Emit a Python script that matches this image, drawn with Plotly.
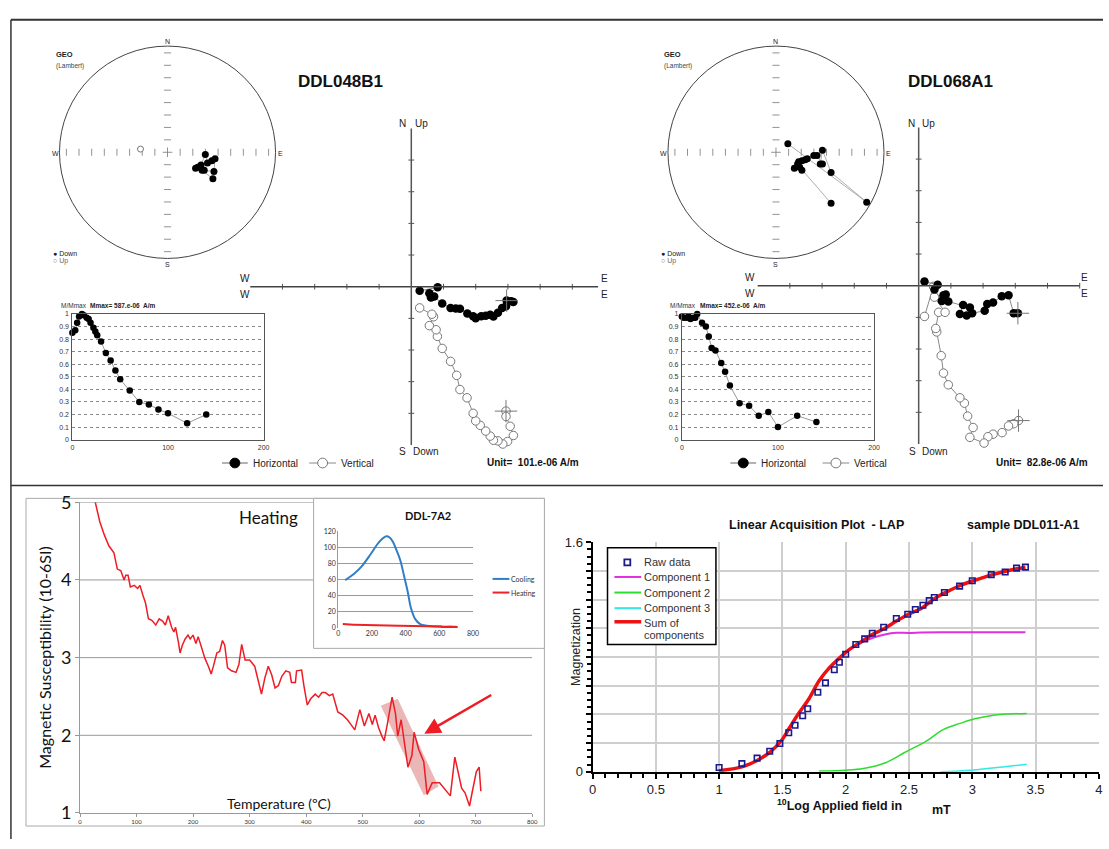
import plotly.graph_objects as go

W, H = 1109, 849
ARIAL = "Liberation Sans"
CALI = "Lato"

# ---------------- data ----------------
# Stereonets (Lambert equal-area, east/north in units of net radius)
st1_east = [0.42, 0.32, 0.43, 0.44, 0.41, 0.37, 0.35, 0.31, 0.28, 0.26, 0.34]
st1_north = [-0.25, -0.17, -0.18, -0.06, -0.08, -0.10, -0.02, -0.12, -0.14, -0.15, -0.17]
st1_up_east = [-0.25]
st1_up_north = [0.03]

st2_east = [0.11, 0.84, 0.51, 0.43, 0.41, 0.43, 0.38, 0.35, 0.29, 0.27, 0.24, 0.21, 0.20, 0.17, 0.24, 0.22, 0.51]
st2_north = [0.08, -0.47, -0.19, 0.02, -0.11, -0.11, -0.03, -0.03, -0.06, -0.07, -0.08, -0.09, -0.11, -0.15, -0.17, -0.14, -0.48]

# Zijderveld diagrams (units of the "Unit=" value)
zh1_x = [2.96, 3.10, 3.17, 2.94, 2.82, 2.69, 2.55, 2.45, 2.31, 2.17, 2.0, 1.92, 1.74, 1.51, 1.38, 1.22, 0.96, 0.71, 0.61, 0.56, 0.82, 0.26]
zh1_y = [-0.44, -0.46, -0.48, -0.62, -0.67, -0.82, -0.94, -0.89, -0.92, -0.93, -1.0, -0.93, -0.85, -0.70, -0.69, -0.67, -0.53, -0.31, -0.34, -0.21, -0.02, -0.13]
zv1_x = [2.94, 2.94, 3.07, 3.17, 2.99, 2.84, 2.69, 2.55, 2.45, 2.31, 2.14, 2.0, 1.92, 1.73, 1.51, 1.41, 1.22, 0.96, 0.81, 0.77, 0.56, 0.69, 0.64, 0.26]
zv1_y = [-3.93, -4.10, -4.41, -4.70, -4.89, -4.97, -4.87, -4.85, -4.72, -4.56, -4.38, -4.24, -4.0, -3.51, -3.25, -2.80, -2.36, -1.95, -1.57, -1.36, -1.23, -0.95, -0.87, -0.67]

zh2_x = [3.08, 2.95, 2.79, 2.58, 2.31, 2.13, 2.05, 1.66, 1.49, 1.28, 1.38, 1.59, 0.92, 0.84, 0.77, 0.72, 0.49, 0.59, 0.18]
zh2_y = [-0.87, -0.87, -0.30, -0.33, -0.53, -0.58, -0.79, -0.87, -0.94, -0.89, -0.61, -0.69, -0.50, -0.28, -0.30, -0.48, -0.12, 0.03, 0.13]
zv2_x = [3.10, 2.95, 2.79, 2.59, 2.31, 2.15, 2.03, 1.59, 1.69, 1.52, 1.42, 1.28, 0.92, 0.77, 0.70, 0.56, 0.53, 0.62, 0.82, 0.49, 0.46, 0.18]
zv2_y = [-4.26, -4.36, -4.43, -4.64, -4.69, -4.77, -4.97, -4.79, -4.48, -4.12, -3.71, -3.54, -3.13, -2.76, -2.21, -1.46, -1.35, -0.84, -0.84, -0.36, -0.02, -0.97]

# Demagnetisation curves M/Mmax
mm1_T = [0, 3, 5, 7, 10, 12, 15, 17, 19, 22, 24, 26, 30, 35, 40, 45, 50, 60, 70, 80, 90, 100, 120, 140]
mm1_M = [0.85, 0.87, 0.93, 0.98, 1.0, 0.99, 0.97, 0.96, 0.93, 0.89, 0.86, 0.83, 0.78, 0.69, 0.63, 0.55, 0.48, 0.39, 0.30, 0.28, 0.24, 0.21, 0.13, 0.20]
mm2_T = [0, 2, 5, 7, 9, 12, 14, 16, 21, 25, 28, 31, 35, 41, 45, 50, 60, 70, 80, 90, 100, 120, 140]
mm2_M = [0.98, 0.97, 0.97, 0.98, 0.96, 0.97, 0.97, 1.0, 0.93, 0.90, 0.82, 0.73, 0.71, 0.61, 0.54, 0.43, 0.29, 0.27, 0.19, 0.22, 0.10, 0.19, 0.14]

# Susceptibility vs temperature (heating)
heat_T = [27, 35, 43, 51, 60, 66, 72, 78, 81, 85, 89, 96, 102, 106, 111, 116, 121, 127, 134, 140,
          146, 151, 156, 162, 166, 169, 174, 177, 181, 186, 191, 195, 200, 205, 209, 215, 221, 227, 232, 236,
          242, 247, 252, 256, 261, 268, 276, 281, 286, 292, 300, 309, 316, 321, 327, 333, 339, 345, 351, 357,
          364, 371, 374, 381, 383, 392, 396, 402, 408, 416, 422, 428, 434, 441, 447, 456, 465, 473, 479, 486,
          495, 503, 511, 517, 522, 528, 534, 538, 544, 552, 558, 562, 568, 574, 580, 587, 591, 599, 608, 614,
          623, 636, 648, 655, 663, 669, 675, 681, 689, 694, 701, 706, 709]
heat_k = [5.0, 4.75, 4.58, 4.44, 4.35, 4.14, 4.12, 4.0, 4.06, 4.06, 3.91, 3.93, 3.89, 3.93, 3.81, 3.70, 3.50, 3.48, 3.42, 3.50,
          3.47, 3.42, 3.54, 3.39, 3.33, 3.39, 3.20, 3.06, 3.16, 3.24, 3.29, 3.24, 3.29, 3.18, 3.27, 3.14, 2.99, 2.89, 2.79, 2.89,
          3.06, 3.08, 3.22, 3.16, 2.87, 2.83, 2.81, 2.91, 3.17, 2.97, 2.97, 2.89, 2.66, 2.53, 2.74, 2.89, 2.78, 2.61, 2.64, 2.76,
          2.83, 2.81, 2.68, 2.68, 2.83, 2.84, 2.64, 2.39, 2.47, 2.53, 2.49, 2.55, 2.55, 2.51, 2.53, 2.30, 2.26, 2.20, 2.14, 2.07,
          2.33, 2.12, 2.28, 2.14, 2.26, 2.10, 1.99, 1.93, 2.16, 2.49, 2.28, 1.99, 2.20, 1.91, 1.59, 1.74, 2.04, 1.82, 1.66, 1.24,
          1.39, 1.39, 1.28, 1.22, 1.72, 1.53, 1.32, 1.26, 1.09, 1.28, 1.53, 1.59, 1.28]
band_T = [532, 562, 634, 608]
band_k = [2.38, 2.47, 1.34, 1.23]
arrow_tail = (730, 2.53)
arrow_head = (609, 2.02)

# Inset DDL-7A2 cooling curve
cool_T = [41, 94, 143, 192, 231, 260, 285, 305, 325, 345, 369, 392, 412, 431, 457, 486, 525, 624, 682, 702]
cool_k = [59.4, 67.5, 77.6, 91.7, 103.8, 110.5, 114.0, 112.5, 107.0, 97.0, 83.6, 63.4, 45.3, 25.1, 10.9, 4.8, 2.8, 1.6, 1.6, 1.6]

# LAP (IRM acquisition)
raw_x = [1.0, 1.18, 1.30, 1.40, 1.48, 1.55, 1.60, 1.66, 1.70, 1.78, 1.84, 1.91, 1.95, 2.0, 2.08, 2.15, 2.21, 2.30, 2.40, 2.49,
         2.55, 2.61, 2.66, 2.70, 2.78, 2.90, 3.0, 3.15, 3.26, 3.35, 3.42]
raw_y = [0.03, 0.057, 0.095, 0.143, 0.197, 0.272, 0.324, 0.391, 0.439, 0.554, 0.620, 0.711, 0.763, 0.819, 0.887, 0.926, 0.966,
         1.007, 1.068, 1.098, 1.131, 1.161, 1.193, 1.215, 1.249, 1.294, 1.331, 1.374, 1.392, 1.419, 1.426]
sum_x = [1.0, 1.18, 1.30, 1.40, 1.49, 1.555, 1.62, 1.71, 1.79, 1.87, 1.95, 2.03, 2.12, 2.21, 2.31, 2.40, 2.50, 2.60, 2.69, 2.79,
         2.91, 3.02, 3.16, 3.29, 3.42]
sum_y = [0.007, 0.034, 0.079, 0.136, 0.215, 0.305, 0.396, 0.509, 0.634, 0.724, 0.792, 0.853, 0.905, 0.957, 1.0, 1.05, 1.10,
         1.14, 1.20, 1.25, 1.30, 1.335, 1.374, 1.403, 1.426]
c1_x = [1.0, 1.18, 1.30, 1.40, 1.49, 1.555, 1.62, 1.71, 1.79, 1.87, 1.95, 2.03, 2.12, 2.21, 2.31, 2.40, 2.50, 2.60, 2.75, 3.0, 3.42]
c1_y = [0.007, 0.034, 0.079, 0.136, 0.215, 0.305, 0.396, 0.509, 0.634, 0.724, 0.792, 0.85, 0.898, 0.932, 0.957, 0.969, 0.968,
        0.971, 0.973, 0.973, 0.973]
c2_x = [1.79, 2.0, 2.14, 2.31, 2.47, 2.64, 2.77, 2.91, 3.02, 3.18, 3.29, 3.43]
c2_y = [0.005, 0.011, 0.023, 0.061, 0.136, 0.215, 0.294, 0.339, 0.369, 0.396, 0.403, 0.407]
c3_x = [2.75, 2.99, 3.16, 3.29, 3.43]
c3_y = [0.0, 0.011, 0.027, 0.038, 0.052]

assert len(heat_T) == len(heat_k)

# ---------------- helpers ----------------
fig = go.Figure()
lay = {}
shapes = []
anns = []


def ref(i):
    return ("x" if i == 1 else f"x{i}", "y" if i == 1 else f"y{i}")


def xdom(p0, p1):
    return [p0 / W, p1 / W]


def ydom(top, bottom):
    return [1 - bottom / H, 1 - top / H]


def set_axes(i, xd, yd, xr, yr, xkw=None, ykw=None):
    xa, ya = ref(i)
    base = dict(showgrid=False, zeroline=False, fixedrange=True)
    xdct = dict(domain=xd, range=xr, anchor=ya, **base)
    ydct = dict(domain=yd, range=yr, anchor=xa, **base)
    if xkw:
        xdct.update(xkw)
    else:
        xdct["visible"] = False
    if ykw:
        ydct.update(ykw)
    else:
        ydct["visible"] = False
    lay["xaxis" if i == 1 else f"xaxis{i}"] = xdct
    lay["yaxis" if i == 1 else f"yaxis{i}"] = ydct


def ann(text, px, py, size=10, color="#222", bold=False, xanchor="center", yanchor="middle", family=ARIAL, angle=0):
    anns.append(dict(text=f"<b>{text}</b>" if bold else text, x=px / W, y=1 - py / H, xref="paper", yref="paper",
                     showarrow=False, xanchor=xanchor, yanchor=yanchor, textangle=angle,
                     font=dict(size=size, color=color, family=family)))


def pline(x0, y0, x1, y1, color="#333", width=1, layer="above"):
    shapes.append(dict(type="line", xref="paper", yref="paper", x0=x0 / W, y0=1 - y0 / H, x1=x1 / W, y1=1 - y1 / H,
                       line=dict(color=color, width=width), layer=layer))


def pcircle(cx, cy, r, fill, line="#555"):
    shapes.append(dict(type="circle", xref="paper", yref="paper", x0=(cx - r) / W, x1=(cx + r) / W,
                       y0=1 - (cy + r) / H, y1=1 - (cy - r) / H, fillcolor=fill, line=dict(color=line, width=1)))


def prect(x0, y0, x1, y1, line="#999", width=1, fill=None, layer="below"):
    d = dict(type="rect", xref="paper", yref="paper", x0=x0 / W, x1=x1 / W, y0=1 - y1 / H, y1=1 - y0 / H,
             line=dict(color=line, width=width), layer=layer)
    if fill:
        d["fillcolor"] = fill
    shapes.append(d)


def stereonet(i, cx, cy, east, north, up_e=None, up_n=None):
    R, span = 109, 1.12
    set_axes(i, xdom(cx - span * R, cx + span * R), ydom(cy - span * R, cy + span * R), [-span, span], [-span, span])
    xa, ya = ref(i)
    shapes.append(dict(type="circle", xref=xa, yref=ya, x0=-1, x1=1, y0=-1, y1=1, line=dict(color="#444", width=1)))
    tx, ty = [], []
    for k in range(1, 9):
        f = 0.117 * k
        for s in (-1, 1):
            tx += [s * f, s * f, None]
            ty += [-0.033, 0.033, None]
            tx += [-0.033, 0.033, None]
            ty += [s * f, s * f, None]
    tx += [-0.045, 0.045, None, 0, 0, None]
    ty += [0, 0, None, -0.045, 0.045, None]
    fig.add_trace(go.Scatter(x=tx, y=ty, mode="lines", line=dict(color="#777", width=0.8), xaxis=xa, yaxis=ya,
                             hoverinfo="skip"))
    fig.add_trace(go.Scatter(x=east, y=north, mode="lines+markers", line=dict(color="#999", width=0.8),
                             marker=dict(size=7, color="black"), xaxis=xa, yaxis=ya))
    if up_e:
        fig.add_trace(go.Scatter(x=up_e, y=up_n, mode="markers",
                                 marker=dict(size=6, color="white", line=dict(color="#777", width=1)),
                                 xaxis=xa, yaxis=ya))
    ann("N", cx, 30, 7)
    ann("S", cx, 259, 7)
    ann("W", cx - 113, 145, 7)
    ann("E", cx + 114, 145, 7)
    ann("GEO", cx - 115, 44, 7.5, bold=True, xanchor="left")
    ann("(Lambert)", cx - 115, 55, 6.5, xanchor="left", color="#444")
    ann("● Down", cx - 118, 248, 7, xanchor="left")
    ann("○ Up", cx - 118, 256, 7, xanchor="left", color="#666")


def zij(i, ox, oy, xr, xend, hx, hy, vx, vy):
    u = 32.5
    yr = [-5.4, 5.4]
    set_axes(i, xdom(ox + xr[0] * u, ox + xr[1] * u), ydom(oy - yr[1] * u, oy - yr[0] * u), xr, yr)
    xa, ya = ref(i)
    shapes.append(dict(type="line", xref=xa, yref=ya, x0=-5, x1=xend, y0=0, y1=0, line=dict(color="#444", width=1.5)))
    shapes.append(dict(type="line", xref=xa, yref=ya, x0=0, x1=0, y0=-5, y1=5, line=dict(color="#555", width=1.5)))
    tx, ty = [], []
    for k in range(-4, 6):
        if k != 0:
            tx += [k, k, None]
            ty += [-0.09, 0.09, None]
    for k in range(-4, 5):
        if k != 0:
            tx += [-0.09, 0.09, None]
            ty += [k, k, None]
    fig.add_trace(go.Scatter(x=tx, y=ty, mode="lines", line=dict(color="#555", width=1), xaxis=xa, yaxis=ya,
                             hoverinfo="skip"))
    fig.add_trace(go.Scatter(x=vx, y=vy, mode="lines+markers", line=dict(color="#888", width=1),
                             marker=dict(size=8.5, color="white", line=dict(color="#777", width=1)),
                             xaxis=xa, yaxis=ya))
    fig.add_trace(go.Scatter(x=hx, y=hy, mode="lines+markers", line=dict(color="#888", width=1),
                             marker=dict(size=8.5, color="black"), xaxis=xa, yaxis=ya))
    fig.add_trace(go.Scatter(x=[hx[0], vx[0]], y=[hy[0], vy[0]], mode="markers",
                             marker=dict(size=16, symbol="cross-thin-open", color="#777",
                                         line=dict(color="#777", width=1)),
                             xaxis=xa, yaxis=ya))


def mmax(i, x0, x1, T, M, lx, mtext):
    top, bottom = 310, 439
    tf = dict(size=7, color="#333", family=ARIAL)
    set_axes(i, xdom(x0, x1), ydom(top, bottom), [0, 200], [0, 1],
             xkw=dict(visible=True, showline=True, mirror=True, linecolor="#555", linewidth=1,
                      tickvals=[0, 100, 200], ticks="", tickfont=tf, ticklabelstandoff=1),
             ykw=dict(visible=True, showline=True, mirror=True, linecolor="#555", linewidth=1,
                      tickvals=[v / 10 for v in range(11)], ticktext=[f"{v / 10:g}" for v in range(11)],
                      ticks="", tickfont=tf, ticklabelstandoff=1,
                      showgrid=True, gridcolor="#888", griddash="dot", gridwidth=1))
    xa, ya = ref(i)
    fig.add_trace(go.Scatter(x=T, y=M, mode="lines+markers", line=dict(color="#999", width=1),
                             marker=dict(size=6.5, color="black"), xaxis=xa, yaxis=ya, cliponaxis=False))
    ann("M/Mmax", lx, 301, 6.5, xanchor="left", color="#333")
    ann(mtext, lx + 30, 301, 6.5, bold=True, xanchor="left", color="#222")


# ---------------- top panel ----------------
stereonet(1, 165, 144, st1_east, st1_north, st1_up_east, st1_up_north)
stereonet(4, 779, 144, st2_east, st2_north)
zij(2, 411, 282, [-5.5, 6.2], 5.8, zh1_x, zh1_y, zv1_x, zv1_y)
zij(5, 923, 281, [-5.5, 5.5], 5.0, zh2_x, zh2_y, zv2_x, zv2_y)
mmax(3, 69, 262, mm1_T, mm1_M, 55, "Mmax= 587.e-06  A/m")
mmax(6, 684, 878, mm2_T, mm2_M, 670, "Mmax= 452.e-06  A/m")

ann("DDL048B1", 340, 71, 17, bold=True, color="#111")
ann("DDL068A1", 955, 71, 17, bold=True, color="#111")

for (nx, upx, sx, dx, wx, ex, yy) in [(402.5, 421, 402, 426, 243, 606, 282), (916, 933, 917, 939, 753, 1090, 281)]:
    ann("N", nx, 114, 10)
    ann("Up", upx, 114, 10)
    ann("S", sx, 451, 10)
    ann("Down", dx, 451, 10)
    ann("W", wx, yy - 8, 10)
    ann("W", wx, yy + 8, 10)
    ann("E", ex, yy - 8, 10)
    ann("E", ex, yy + 8, 10)

ann("Unit=  101.e-06 A/m", 582, 462, 10, bold=True, xanchor="right", color="#111")
ann("Unit=  82.8e-06 A/m", 1096, 462, 10, bold=True, xanchor="right", color="#111")

for (h0, v0) in [(220, 308), (733, 826)]:
    pline(h0, 463, h0 + 26, 463, "#666", 1)
    pcircle(h0 + 13, 463, 5, "black", "black")
    ann("Horizontal", h0 + 29, 463, 10, xanchor="left", color="#222")
    pline(v0, 463, v0 + 27, 463, "#888", 1)
    pcircle(v0 + 13.5, 463, 5, "white", "#777")
    ann("Vertical", v0 + 30, 463, 10, xanchor="left", color="#222")

# ---------------- susceptibility (bottom-left) ----------------
PX0, PX1, PY0, PY1 = 76.7, 533.1, 503.3, 822.3
set_axes(7, xdom(PX0, PX1), ydom(PY0, PY1), [0, 800], [1, 5],
         xkw=dict(visible=True, showline=True, linecolor="#999", linewidth=1, tickvals=list(range(0, 801, 100)),
                  ticks="outside", ticklen=3, tickcolor="#999", tickfont=dict(size=6, family=CALI, color="#333")),
         ykw=dict(visible=True, showline=True, linecolor="#999", linewidth=1, tickvals=[1, 2, 3, 4, 5],
                  ticks="outside", ticklen=4, tickcolor="#999", tickfont=dict(size=18, family=CALI, color="#111")))
prect(22.2, 499.3, 545.3, 835.7, "#aaa", 1)
INS = (312.4, 499.3, 545.3, 653.3)
x_cut = (INS[0] - PX0) / (PX1 - PX0) * 800
for k in [2, 3]:
    shapes.append(dict(type="line", xref="x7", yref="y7", x0=0, x1=800, y0=k, y1=k, line=dict(color="#999", width=1),
                       layer="below"))
for k in [4, 5]:
    shapes.append(dict(type="line", xref="x7", yref="y7", x0=0, x1=x_cut, y0=k, y1=k,
                       line=dict(color="#999", width=1), layer="below"))
shapes.append(dict(type="path", xref="x7", yref="y7",
                   path="M " + " L ".join(f"{t},{k}" for t, k in zip(band_T, band_k)) + " Z",
                   fillcolor="rgba(214,110,110,0.5)", line=dict(width=0), layer="below"))
fig.add_trace(go.Scatter(x=heat_T, y=heat_k, mode="lines", line=dict(color="#ee1c24", width=1.5), xaxis="x7", yaxis="y7"))
anns.append(dict(x=arrow_head[0], y=arrow_head[1], xref="x7", yref="y7", ax=arrow_tail[0], ay=arrow_tail[1],
                 axref="x7", ayref="y7", showarrow=True, arrowhead=2, arrowsize=1.3, arrowwidth=2.5,
                 arrowcolor="#ee1c24", text=""))
ann("Heating", 267, 519, 17, family=CALI, color="#111")
ann("Temperature (ºC)", 277, 813, 14, family=CALI, color="#111")
ann("Magnetic Susceptibility (10-6SI)", 41.3, 663, 16, family=CALI, color="#111", angle=-90)

# inset DDL-7A2
prect(*INS, "#aaa", 1, fill="white")
set_axes(8, xdom(337.3, 473.3), ydom(533.3, 632.3), [0, 800], [0, 120],
         xkw=dict(visible=True, showline=False, tickvals=[0, 200, 400, 600, 800], ticks="",
                  tickfont=dict(size=7, family=CALI, color="#333")),
         ykw=dict(visible=True, showline=True, linecolor="#999", tickvals=list(range(0, 121, 20)), ticks="",
                  showgrid=True, gridcolor="#999", gridwidth=1, tickfont=dict(size=7, family=CALI, color="#333")))
fig.add_trace(go.Scatter(x=cool_T, y=cool_k, mode="lines", line=dict(color="#2f7ec7", width=2, shape="spline"),
                         xaxis="x8", yaxis="y8"))
fig.add_trace(go.Scatter(x=heat_T, y=heat_k, mode="lines", line=dict(color="#ee2222", width=2), xaxis="x8", yaxis="y8"))
ann("DDL-7A2", 428, 517, 11, bold=True, family=CALI, color="#111")
pline(493, 582, 510, 582, "#2f7ec7", 2)
pline(493, 596, 510, 596, "#ee2222", 2)
ann("Cooling", 510, 582, 7, xanchor="left", family=CALI, color="#333")
ann("Heating", 510, 596, 7, xanchor="left", family=CALI, color="#333")

# ---------------- LAP (bottom-right) ----------------
tf = dict(size=13, family=ARIAL, color="#222")
set_axes(9, xdom(593.9, 1104.8), ydom(544.3, 780), [0, 4], [0, 1.6],
         xkw=dict(visible=True, showline=True, linecolor="black", linewidth=2, dtick=0.5, tick0=0,
                  ticks="outside", ticklen=5, tickwidth=1.5, tickcolor="black", tickfont=tf,
                  showgrid=True, gridcolor="#cfcfcf", gridwidth=2,
                  minor=dict(dtick=0.1, tick0=0, ticks="outside", ticklen=4, tickcolor="black", showgrid=False)),
         ykw=dict(visible=True, showline=True, linecolor="black", linewidth=2,
                  tickvals=[k * 0.2 for k in range(9)], ticktext=["0"] + [""] * 7 + ["1.6"],
                  ticks="outside", ticklen=5, tickwidth=1.5, tickcolor="black", tickfont=tf,
                  showgrid=True, gridcolor="#cfcfcf", gridwidth=2,
                  minor=dict(tickmode="linear", dtick=0.05, tick0=0, ticks="outside", ticklen=4, tickcolor="black",
                             showgrid=False)))
fig.add_trace(go.Scatter(x=c3_x, y=c3_y, mode="lines", line=dict(color="#33e8e8", width=1.5, shape="spline"), xaxis="x9", yaxis="y9"))
fig.add_trace(go.Scatter(x=c2_x, y=c2_y, mode="lines", line=dict(color="#2edc2e", width=1.5, shape="spline"), xaxis="x9", yaxis="y9"))
fig.add_trace(go.Scatter(x=c1_x, y=c1_y, mode="lines", line=dict(color="#e030e0", width=2, shape="spline"), xaxis="x9", yaxis="y9"))
fig.add_trace(go.Scatter(x=sum_x, y=sum_y, mode="lines", line=dict(color="#ee1111", width=3.5, shape="spline"), xaxis="x9", yaxis="y9"))
fig.add_trace(go.Scatter(x=raw_x, y=raw_y, mode="markers",
                         marker=dict(symbol="square-open", size=5.5, color="#1a1a8c", line=dict(width=1.6)),
                         xaxis="x9", yaxis="y9"))
ann("Linear Acquisition Plot  - LAP", 820, 527, 12.5, bold=True, color="#111")
ann("sample DDL011-A1", 1029, 527, 12.5, bold=True, color="#111")
ann("Magnetization", 577, 652, 12.5, angle=-90, color="#222")
ann("<sup>10</sup>Log Applied field in", 843, 814, 12.5, bold=True, color="#111")
ann("mT", 946, 819, 12.5, bold=True, color="#111")

# LAP legend
prect(609, 550, 718.4, 649.3, "black", 1.5, fill="white", layer="above")
shapes.append(dict(type="rect", xref="paper", yref="paper", x0=626 / W, x1=632 / W, y0=1 - 568 / H, y1=1 - 562 / H,
                   line=dict(color="#1a1a8c", width=1.8)))
for yy, col, wd in [(580, "#e030e0", 2), (596, "#2edc2e", 2), (612, "#33e8e8", 2), (626, "#ee1111", 3.5)]:
    pline(616, yy, 643, yy, col, wd)
lf = 11
ann("Raw data", 644, 565, lf, xanchor="left", color="#333")
ann("Component 1", 644, 580, lf, xanchor="left", color="#333")
ann("Component 2", 644, 596, lf, xanchor="left", color="#333")
ann("Component 3", 644, 612, lf, xanchor="left", color="#333")
ann("Sum of", 644, 627, lf, xanchor="left", color="#333")
ann("components", 644, 640, lf, xanchor="left", color="#333")

# ---------------- frame lines ----------------
pline(7, 8, 1109, 8, "#333", 2)
pline(7, 8, 7, 849, "#333", 1.5)
pline(7, 486, 1109, 486, "#333", 1.5)

fig.update_layout(width=W, height=H, margin=dict(l=0, r=0, t=0, b=0), paper_bgcolor="white",
                  plot_bgcolor="rgba(0,0,0,0)", showlegend=False, font=dict(family=ARIAL, color="#222"),
                  shapes=shapes, annotations=anns, **lay)
fig.write_html("out.html", post_script="document.body.style.margin='0';document.body.style.overflow='hidden';",
               config={"displayModeBar": False})
